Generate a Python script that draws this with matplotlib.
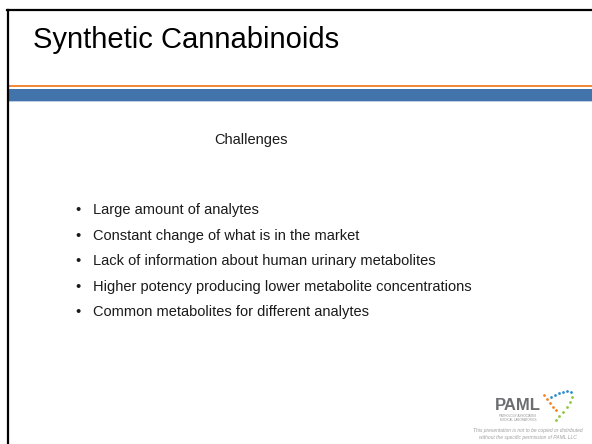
import matplotlib.pyplot as plt
from matplotlib.patches import Rectangle

title = "Synthetic Cannabinoids"
subtitle = "Challenges"
bullets = [
    "Large amount of analytes",
    "Constant change of what is in the market",
    "Lack of information about human urinary metabolites",
    "Higher potency producing lower metabolite concentrations",
    "Common metabolites for different analytes",
]
disclaimer = ["This presentation is not to be copied or distributed",
              "without the specific permission of PAML LLC"]

# logo dot trail (orange -> blue -> green)
logo_dots = [(544, 395, "#f58220"), (547, 399, "#f58220"), (550, 403, "#f58220"),
             (553, 407, "#f58220"), (556, 410, "#f58220"),
             (551, 397, "#2e8bd0"), (555, 395, "#2e8bd0"), (559, 393, "#2e8bd0"),
             (563, 392, "#2e8bd0"), (567, 391, "#2e8bd0"), (571, 392, "#2e8bd0"),
             (572, 397, "#8dc63f"), (570, 402, "#8dc63f"), (567, 407, "#8dc63f"),
             (563, 412, "#8dc63f"), (559, 416, "#8dc63f"), (556, 420, "#8dc63f")]

plt.rcParams['font.family'] = ['Liberation Sans', 'DejaVu Sans']

fig = plt.figure(figsize=(5.92, 4.44), dpi=100)
ax = fig.add_axes([0, 0, 1, 1])
ax.set_xlim(0, 592)
ax.set_ylim(444, 0)
ax.axis("off")

# slide frame
ax.plot([7.5, 7.5], [10, 444], color="black", lw=1.6)
ax.plot([7, 592], [10, 10], color="black", lw=1.6)

# header bars
ax.add_patch(Rectangle((7, 85), 585, 2, color="#f08a3c", lw=0))
ax.add_patch(Rectangle((7, 89), 585, 12, color="#4274ab", lw=0))
ax.add_patch(Rectangle((7, 101), 585, 1.2, color="#b9cde4", lw=0))

ax.text(33, 40, title, fontsize=21, va="center", ha="left", color="black")
ax.text(251, 140, subtitle, fontsize=10.5, va="center", ha="center", color="#1a1a1a")

for i, b in enumerate(bullets):
    y = 210 + i * 25.5
    ax.text(78, y, "\u2022", fontsize=10.5, va="center", ha="center", color="#1a1a1a")
    ax.text(93, y, b, fontsize=10.5, va="center", ha="left", color="#1a1a1a")

# logo
ax.text(495, 405, "PAML", fontsize=12, fontweight="bold", color="#6d6e71",
        va="center", ha="left")
ax.text(518, 415.5, "PATHOLOGY ASSOCIATES", fontsize=2.2, color="#909090", ha="center", va="center")
ax.text(518, 419.5, "MEDICAL LABORATORIES", fontsize=2.2, color="#909090", ha="center", va="center")
for x, y, c in logo_dots:
    ax.scatter(x, y, s=4, color=c, lw=0)

for i, line in enumerate(disclaimer):
    ax.text(528, 430 + i * 7, line, fontsize=3.6, style="italic", color="#a0a0a0",
            ha="center", va="center")

fig.savefig("out.png", dpi=100)
